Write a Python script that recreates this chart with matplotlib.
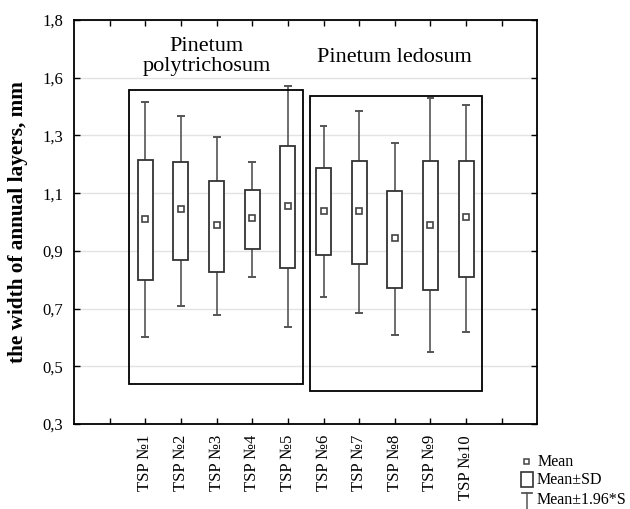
import matplotlib
matplotlib.use('Agg')
import matplotlib.pyplot as plt
import numpy as np
from matplotlib.patches import Rectangle
from matplotlib.lines import Line2D

plt.rcParams['font.family'] = ['Liberation Serif', 'DejaVu Serif']

# values
labels = ['TSP №1', 'TSP №2', 'TSP №3', 'TSP №4', 'TSP №5',
          'TSP №6', 'TSP №7', 'TSP №8', 'TSP №9', 'TSP №10']
mean = [1.062, 1.097, 1.040, 1.066, 1.109, 1.090, 1.090, 0.989, 1.040, 1.069]
sd_hi = [1.280, 1.271, 1.204, 1.167, 1.334, 1.250, 1.278, 1.166, 1.278, 1.278]
sd_lo = [0.835, 0.910, 0.866, 0.950, 0.881, 0.926, 0.894, 0.805, 0.799, 0.847]
ci_hi = [1.495, 1.444, 1.365, 1.271, 1.554, 1.408, 1.461, 1.342, 1.509, 1.484]
ci_lo = [0.624, 0.738, 0.705, 0.845, 0.659, 0.772, 0.712, 0.630, 0.569, 0.642]

ytick_vals = np.linspace(0.3, 1.8, 8)
ytick_labels = ['0,3', '0,5', '0,7', '0,9', '1,1', '1,3', '1,6', '1,8']

fig = plt.figure(figsize=(6.3, 5.09), dpi=100)
ax = fig.add_axes([0.1175, 0.167, 0.7355, 0.7937])

x = np.arange(2, 12)
edge = '#333333'
wcol = '#555555'

ax.vlines(x, ci_lo, ci_hi, color=wcol, lw=1.2, zorder=2)
ax.hlines(ci_hi, x - 0.11, x + 0.11, color=wcol, lw=1.4, zorder=2)
ax.hlines(ci_lo, x - 0.11, x + 0.11, color=wcol, lw=1.4, zorder=2)
ax.bar(x, np.array(sd_hi) - np.array(sd_lo), bottom=sd_lo, width=0.42,
       facecolor='white', edgecolor=edge, lw=1.3, zorder=3)
ax.plot(x, mean, 's', ms=5, mfc='white', mec='#444444', mew=1.2, zorder=4)

# group frames
ax.add_patch(Rectangle((1.545, 0.448), 4.885, 1.093, fill=False, ec='black', lw=1.3, zorder=5))
ax.add_patch(Rectangle((6.63, 0.423), 4.83, 1.093, fill=False, ec='black', lw=1.3, zorder=5))
ax.text(3.72, 1.665, 'Pinetum\npolytrichosum', ha='center', va='center',
        fontsize=16, linespacing=1.05)
ax.text(8.98, 1.66, 'Pinetum ledosum', ha='center', va='center', fontsize=16)

ax.set_xlim(0, 13)
ax.set_ylim(0.3, 1.8)
ax.set_xticks(np.arange(1, 13))
ax.set_xticklabels([''] + labels + [''], rotation=90, fontsize=12)
ax.set_yticks(ytick_vals)
ax.set_yticklabels(ytick_labels, fontsize=12)
ax.tick_params(direction='in', length=4, width=1, top=True, right=True, pad=8)
ax.yaxis.grid(True, color='#e3e3e3', lw=1)
ax.set_axisbelow(True)
for s in ax.spines.values():
    s.set_linewidth(1.3)
ax.set_ylabel('the width of annual layers, mm', fontsize=15.3, fontweight='bold', labelpad=10)

# legend drawn by hand
fig.patches.append(Rectangle((524 / 630, 1 - 464 / 509), 5 / 630, 5 / 509, transform=fig.transFigure,
                             fill=False, ec='#444444', lw=1.1))
fig.patches.append(Rectangle((520.7 / 630, 1 - 486.7 / 509), 12.6 / 630, 15 / 509, transform=fig.transFigure,
                             fill=False, ec='#333333', lw=1.2))
fig.lines.append(Line2D([527 / 630, 527 / 630], [1 - 493 / 509, 0], transform=fig.transFigure, color='#555555', lw=1.1))
fig.lines.append(Line2D([522 / 630, 532 / 630], [1 - 493 / 509, 1 - 493 / 509], transform=fig.transFigure, color='#555555', lw=1.3))
fig.text(538 / 630, 1 - 462 / 509, 'Mean', fontsize=11.5, va='center')
fig.text(537 / 630, 1 - 480 / 509, 'Mean±SD', fontsize=11.5, va='center')
fig.text(537 / 630, 1 - 500 / 509, 'Mean±1.96*S', fontsize=11.5, va='center')

fig.savefig('out.png', dpi=100)
